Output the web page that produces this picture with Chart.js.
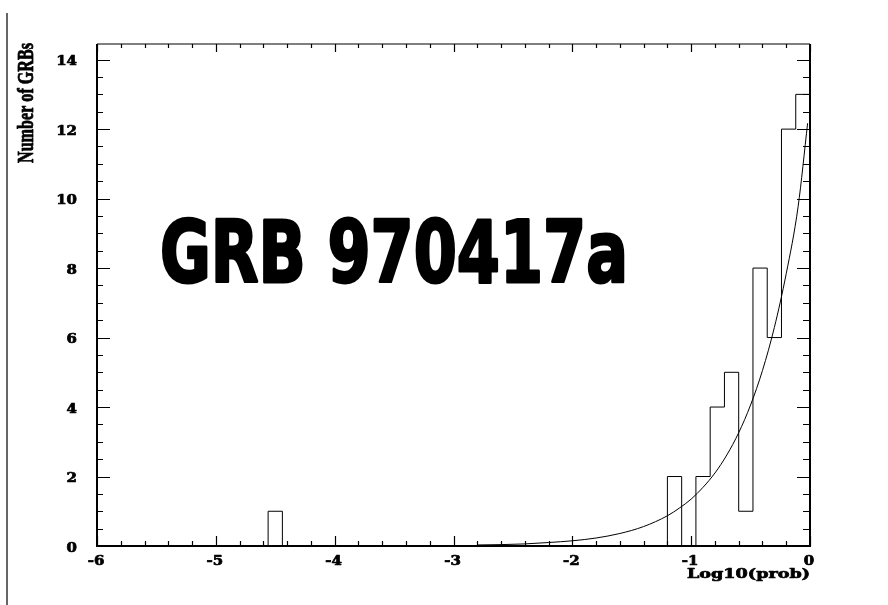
<!DOCTYPE html>
<html>
<head>
<meta charset="utf-8">
<script src="https://cdn.jsdelivr.net/npm/chart.js@4"></script>
<style>
  html, body { margin: 0; padding: 0; background: #ffffff; }
  #wrap { width: 888px; height: 605px; }
</style>
</head>
<body>
<div id="wrap"><canvas id="c" width="888" height="605"></canvas></div>
<script>
// Histogram of Log10(prob): 50 bins of width 0.12 spanning [-6, 0]
const binLow = -6;
const binWidth = 0.12;
const counts = [
  0, 0, 0, 0, 0, 0, 0, 0, 0, 0,    // -6.00 .. -4.92
  0, 0, 1, 0, 0, 0, 0, 0, 0, 0,    // -4.80 .. -3.72
  0, 0, 0, 0, 0, 0, 0, 0, 0, 0,    // -3.60 .. -2.52
  0, 0, 0, 0, 0, 0, 0, 0, 0, 0,    // -2.40 .. -1.32
  2, 0, 2, 4, 5, 1, 8, 6, 12, 13   // -1.20 .. -0.12
];

// Fitted exponential curve, sampled
const fitX = [-2.8, -2.6, -2.4, -2.2, -2.0, -1.8, -1.6, -1.4, -1.2, -1.1, -1.0,
              -0.9, -0.8, -0.7, -0.6, -0.5, -0.4, -0.3, -0.2, -0.1, -0.02];
const fitY = [0.03, 0.04, 0.06, 0.10, 0.15, 0.23, 0.36, 0.56, 0.87, 1.09, 1.35,
              1.69, 2.10, 2.62, 3.26, 4.06, 5.05, 6.29, 7.84, 9.77, 12.17];

// Axis ticks and labels
const xMajorTicks = [-6, -5, -4, -3, -2, -1, 0];
const xMinorStep = 0.2;
const yMajorTicks = [0, 2, 4, 6, 8, 10, 12, 14];
const yMinorStep = 0.5;
const xRange = [-6, 0];
const yRange = [0, 14.45];

const xTitle = 'Log10(prob)';
const yTitle = 'Number of GRBs';
const bigLabel = 'GRB 970417a';

// Stepped outline through the left edge of every bin, closed at the right edge
const histPoints = counts.map((c, i) => ({ x: binLow + i * binWidth, y: c }));
histPoints.push({ x: binLow + counts.length * binWidth, y: 0 });

const fitPoints = fitX.map((x, i) => ({ x: x, y: fitY[i] }));

// Draw text with a horizontal stretch and an optional thin outline for extra weight
function stretchText(ctx, text, x, y, sx, align, heavy) {
  ctx.save();
  ctx.translate(x, y);
  ctx.scale(sx, 1);
  ctx.textAlign = align;
  ctx.fillText(text, 0, 0);
  if (heavy) {
    ctx.lineWidth = heavy;
    ctx.lineJoin = 'round';
    ctx.strokeText(text, 0, 0);
  }
  ctx.restore();
}

function fitText(ctx, text, x, y, width, align, heavy) {
  const w = ctx.measureText(text).width;
  stretchText(ctx, text, x, y, width / w, align, heavy);
}

const frameAndText = {
  id: 'frameAndText',
  afterDraw(chart) {
    const ctx = chart.ctx;
    const xs = chart.scales.x, ys = chart.scales.y;
    const a = chart.chartArea;
    ctx.save();
    ctx.strokeStyle = '#000';
    ctx.fillStyle = '#000';

    // page margin rule on the left
    ctx.lineWidth = 1.5;
    ctx.strokeStyle = '#333';
    ctx.beginPath();
    ctx.moveTo(7, 13);
    ctx.lineTo(7, 605);
    ctx.stroke();
    ctx.strokeStyle = '#000';

    // frame
    ctx.lineWidth = 2;
    ctx.beginPath();
    ctx.moveTo(a.left, a.top);
    ctx.lineTo(a.left, a.bottom);
    ctx.lineTo(a.right, a.bottom);
    ctx.lineTo(a.right, a.top);
    ctx.stroke();
    ctx.lineWidth = 1.2;
    ctx.beginPath();
    ctx.moveTo(a.left, a.top);
    ctx.lineTo(a.right, a.top);
    ctx.stroke();

    // x ticks (bottom and top, pointing inward)
    ctx.lineWidth = 1.2;
    ctx.beginPath();
    const nx = Math.round((xRange[1] - xRange[0]) / xMinorStep);
    for (let i = 0; i <= nx; i++) {
      const v = xRange[0] + i * xMinorStep;
      const px = Math.round(xs.getPixelForValue(v)) + 0.5;
      const major = xMajorTicks.some(t => Math.abs(t - v) < 1e-6);
      const lb = major ? 10 : 5;
      const lt = major ? 8 : 4;
      ctx.moveTo(px, a.bottom);
      ctx.lineTo(px, a.bottom - lb);
      ctx.moveTo(px, a.top);
      ctx.lineTo(px, a.top + lt);
    }
    // y ticks (left and right, pointing inward)
    const ny = Math.floor((yRange[1] - yRange[0]) / yMinorStep + 1e-6);
    for (let i = 0; i <= ny; i++) {
      const v = yRange[0] + i * yMinorStep;
      const py = Math.round(ys.getPixelForValue(v)) + 0.5;
      const major = yMajorTicks.some(t => Math.abs(t - v) < 1e-6);
      const l = major ? 13 : 6;
      const r = major ? 13 : 7;
      ctx.moveTo(a.left, py);
      ctx.lineTo(a.left + l, py);
      ctx.moveTo(a.right, py);
      ctx.lineTo(a.right - r, py);
    }
    ctx.stroke();

    // tick labels
    ctx.font = 'bold 13px "DejaVu Serif"';
    ctx.textBaseline = 'alphabetic';
    yMajorTicks.forEach(t => {
      const py = ys.getPixelForValue(t);
      stretchText(ctx, String(t), 77, py + 5.5, 1.15, 'right', 0.7);
    });
    xMajorTicks.forEach(t => {
      const px = xs.getPixelForValue(t);
      stretchText(ctx, String(t), px - 1, 565, 1.15, 'center', 0.7);
    });

    // axis titles
    ctx.font = 'bold 13px "DejaVu Serif"';
    fitText(ctx, xTitle, 810, 578, 123, 'right', 0.7);

    ctx.save();
    ctx.translate(33, 103);
    ctx.rotate(-Math.PI / 2);
    ctx.font = 'bold 23px "Liberation Serif"';
    fitText(ctx, yTitle, 0, 0, 120, 'center', 0.8);
    ctx.restore();

    // event name
    ctx.font = 'bold 86px "DejaVu Sans"';
    fitText(ctx, bigLabel, xs.getPixelForValue(-5.47), ys.getPixelForValue(7.6), 468, 'left', 3);

    ctx.restore();
  }
};

new Chart(document.getElementById('c'), {
  type: 'scatter',
  data: {
    datasets: [
      {
        label: 'counts',
        data: histPoints,
        showLine: true,
        stepped: 'before',
        borderColor: '#000',
        borderWidth: 1,
        pointRadius: 0,
        fill: false
      },
      {
        label: 'fit',
        data: fitPoints,
        showLine: true,
        cubicInterpolationMode: 'monotone',
        borderColor: '#000',
        borderWidth: 1,
        pointRadius: 0,
        fill: false
      }
    ]
  },
  options: {
    responsive: false,
    animation: false,
    events: [],
    layout: { padding: { top: 44, right: 78, left: 0, bottom: 0 } },
    plugins: { legend: { display: false }, tooltip: { enabled: false }, title: { display: false } },
    scales: {
      x: {
        type: 'linear', min: xRange[0], max: xRange[1],
        ticks: { display: false }, grid: { display: false }, border: { display: false },
        afterFit(s) { s.height = 59; }
      },
      y: {
        type: 'linear', min: yRange[0], max: yRange[1],
        ticks: { display: false }, grid: { display: false }, border: { display: false },
        afterFit(s) { s.width = 97; }
      }
    }
  },
  plugins: [frameAndText]
});
</script>
</body>
</html>
